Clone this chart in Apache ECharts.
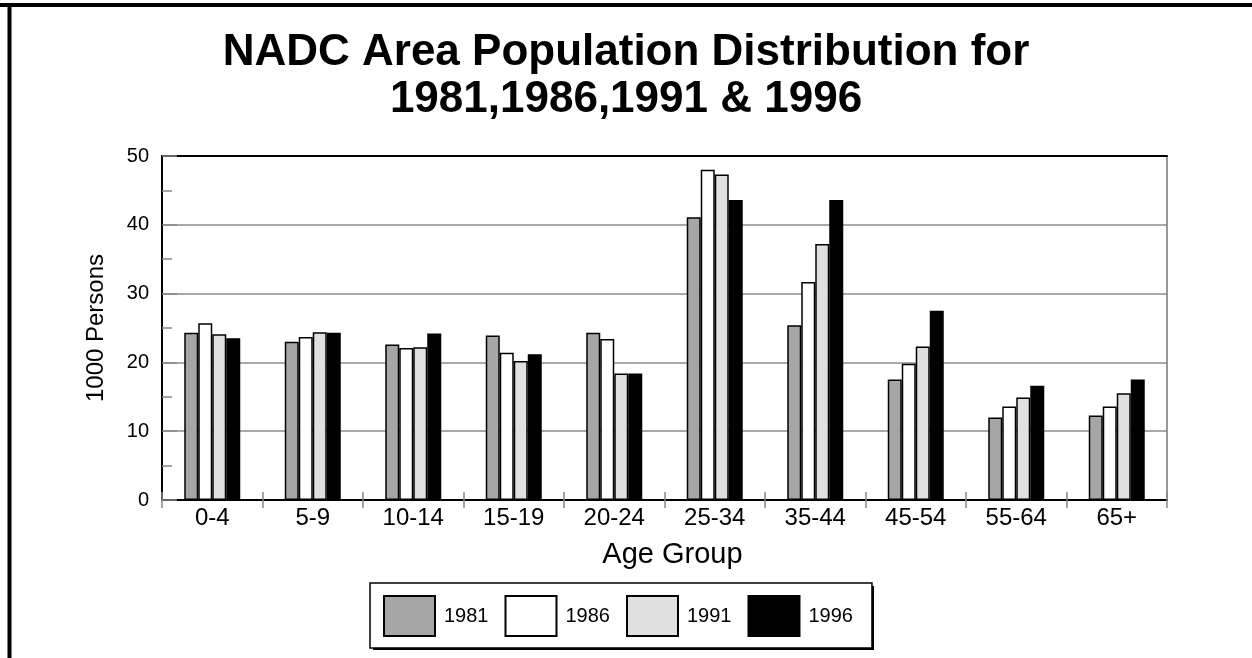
<!DOCTYPE html>
<html>
<head>
<meta charset="utf-8">
<script src="https://cdn.jsdelivr.net/npm/echarts@6/dist/echarts.min.js"></script>
<style>
html,body{margin:0;padding:0;background:#fff;}
#chart{width:1252px;height:658px;}
</style>
</head>
<body>
<div id="chart"></div>
<script>
const categories = ['0-4','5-9','10-14','15-19','20-24','25-34','35-44','45-54','55-64','65+'];
const years = ['1981','1986','1991','1996'];
const v1981 = [24.3, 23.0, 22.6, 23.9, 24.3, 41.1, 25.4, 17.5, 12.0, 12.3];
const v1986 = [25.7, 23.7, 22.1, 21.4, 23.4, 48.0, 31.7, 19.8, 13.6, 13.6];
const v1991 = [24.1, 24.4, 22.2, 20.2, 18.4, 47.3, 37.2, 22.3, 14.9, 15.5];
const v1996 = [23.5, 24.3, 24.2, 21.2, 18.4, 43.6, 43.6, 27.5, 16.6, 17.5];
const yTicks = [0, 10, 20, 30, 40, 50];

const seriesValues = [v1981, v1986, v1991, v1996];
const fills = ['#a6a6a6', '#ffffff', '#e0e0e0', '#000000'];
const FONT = "'Liberation Sans', Arial, Helvetica, sans-serif";

const chart = echarts.init(document.getElementById('chart'), null, {renderer: 'canvas'});
chart.setOption({
  animation: false,
  backgroundColor: '#ffffff',
  textStyle: {fontFamily: FONT, color: '#000'},
  title: [
    {text: 'NADC Area Population Distribution for', left: 'center', top: 26,
     textStyle: {fontFamily: FONT, fontWeight: 'bold', fontSize: 44, color: '#000'}},
    {text: '1981,1986,1991 & 1996', left: 'center', top: 73,
     textStyle: {fontFamily: FONT, fontWeight: 'bold', fontSize: 44, color: '#000'}}
  ],
  legend: {
    data: years,
    left: 370, top: 583,
    orient: 'horizontal',
    itemWidth: 51, itemHeight: 40, itemGap: 16,
    padding: [12, 19, 11, 13],
    backgroundColor: '#ffffff',
    borderColor: '#000', borderWidth: 1.5, borderRadius: 0,
    z: 10,
    icon: 'rect',
    textStyle: {fontFamily: FONT, fontSize: 20, color: '#000', padding: [0, 0, 0, 4]}
  },
  grid: {left: 162, right: 85, top: 156, bottom: 158},
  xAxis: [
    {type: 'category', data: categories, position: 'bottom',
     axisLine: {show: true, lineStyle: {color: '#000', width: 2}},
     axisTick: {show: true, length: 8, lineStyle: {color: '#888', width: 1.5}},
     axisLabel: {fontFamily: FONT, fontSize: 24, color: '#000', margin: 6},
     name: 'Age Group', nameLocation: 'middle', nameGap: 40,
     nameTextStyle: {fontFamily: FONT, fontSize: 29, color: '#000', padding: [0, 0, 0, 16]},
     splitLine: {show: false}},
    {type: 'category', data: categories, position: 'bottom',
     axisLine: {show: false},
     axisTick: {show: true, inside: true, length: 8, lineStyle: {color: '#888', width: 1.5}},
     axisLabel: {show: false}, splitLine: {show: false}},
    {type: 'category', data: categories, position: 'top',
     axisLine: {show: true, lineStyle: {color: '#000', width: 2}},
     axisTick: {show: false}, axisLabel: {show: false}, splitLine: {show: false}}
  ],
  yAxis: [
    {type: 'value', min: yTicks[0], max: yTicks[yTicks.length - 1], interval: 10,
     axisLine: {show: true, lineStyle: {color: '#000', width: 2}},
     axisTick: {show: true, inside: true, length: 15, lineStyle: {color: '#888', width: 1.5}},
     minorTick: {show: true, splitNumber: 2, length: 10, lineStyle: {color: '#888', width: 1.5}},
     axisLabel: {fontFamily: FONT, fontSize: 20, color: '#000', margin: 13},
     splitLine: {show: true, lineStyle: {color: '#8c8c8c', width: 1.5}},
     name: '1000 Persons', nameLocation: 'middle', nameGap: 54,
     nameTextStyle: {fontFamily: FONT, fontSize: 24, color: '#000'}},
    {type: 'value', min: yTicks[0], max: yTicks[yTicks.length - 1], interval: 10, position: 'right',
     axisLine: {show: true, lineStyle: {color: '#777', width: 1.5}},
     axisTick: {show: false}, axisLabel: {show: false}, splitLine: {show: false}}
  ],
  series: years.map((y, i) => ({
    name: y, type: 'bar', xAxisIndex: 0, yAxisIndex: 0,
    data: seriesValues[i],
    barWidth: 14, barGap: '0%',
    itemStyle: {color: fills[i], borderColor: '#000', borderWidth: 1.5}
  })),
  graphic: [
    {type: 'line', shape: {x1: 0, y1: 5, x2: 1252, y2: 5}, style: {stroke: '#000', lineWidth: 4}},
    {type: 'line', shape: {x1: 9.5, y1: 3, x2: 9.5, y2: 658}, style: {stroke: '#000', lineWidth: 4}},
    {type: 'rect', z: 0, shape: {x: 373, y: 586, width: 501, height: 64}, style: {fill: '#000'}}
  ]
});
</script>
</body>
</html>
